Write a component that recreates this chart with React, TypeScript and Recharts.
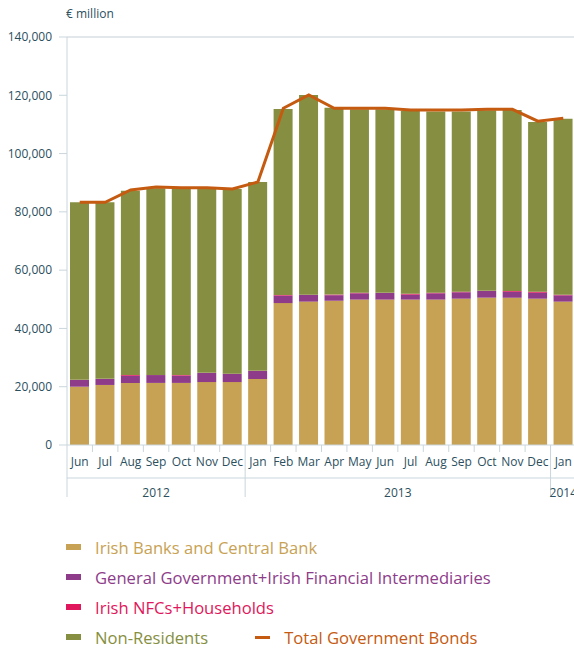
import { ComposedChart, Bar, Line, XAxis, YAxis, ReferenceLine } from "recharts";

const months = ["Jun", "Jul", "Aug", "Sep", "Oct", "Nov", "Dec", "Jan", "Feb", "Mar", "Apr", "May", "Jun", "Jul", "Aug", "Sep", "Oct", "Nov", "Dec", "Jan"];
const years = ["2012", "2012", "2012", "2012", "2012", "2012", "2012", "2013", "2013", "2013", "2013", "2013", "2013", "2013", "2013", "2013", "2013", "2013", "2013", "2014"];

const irishBanks = [20000, 20600, 21300, 21300, 21300, 21600, 21600, 22650, 48700, 49200, 49500, 49900, 49900, 49900, 49900, 50200, 50550, 50550, 50200, 49200];
const generalGov = [2300, 2050, 2500, 2700, 2500, 3100, 2800, 2750, 2550, 2300, 1900, 2150, 2250, 1700, 2150, 2200, 2300, 2050, 2050, 2150];
const nfcHouseholds = [50, 50, 200, 50, 200, 50, 50, 50, 200, 50, 200, 200, 50, 300, 200, 200, 50, 250, 350, 200];
const nonResidents = [60950, 60600, 63200, 64050, 64100, 63350, 63400, 64800, 63850, 68550, 64150, 62950, 63000, 62700, 62150, 61800, 61950, 62100, 58250, 60400];
const totalBonds = [83300, 83300, 87500, 88550, 88300, 88300, 87850, 90250, 115550, 120100, 115550, 115550, 115550, 114950, 114950, 114950, 115200, 115200, 111100, 112100];

const yTicks = [0, 20000, 40000, 60000, 80000, 100000, 120000, 140000];

const data = months.map((m, i) => ({
  id: `${years[i]} ${m}`,
  banks: irishBanks[i],
  gov: generalGov[i],
  nfc: nfcHouseholds[i],
  nonRes: nonResidents[i],
  total: totalBonds[i],
}));

const FONT = "'Open Sans', sans-serif";
const TEXT = "#2b4f5e";
const AXIS = "#c9d6dc";

const GOLD = "#c8a254";
const PURPLE = "#8e3c8a";
const PINK = "#e0175c";
const GREEN = "#868f41";
const ORANGE = "#c55a11";

const MonthTick = (props: any) => {
  const { x, y, index } = props;
  const half = props.payload?.offset ?? 12.7;
  const next = index + 1;
  const boundary = next < months.length && years[next] === years[index];
  return (
    <g>
      <text x={x} y={y + 21} textAnchor="middle" fontSize={12} fontFamily={FONT} fill={TEXT}>
        {months[index]}
      </text>
      {boundary && <line x1={x + half} x2={x + half} y1={y} y2={y + 7} stroke={AXIS} strokeWidth={1} />}
    </g>
  );
};

const YearTick = (props: any) => {
  const { x, y, index } = props;
  const half = props.payload?.offset ?? 12.7;
  if (index > 0 && years[index - 1] === years[index]) return <g />;
  const count = years.filter((yr) => yr === years[index]).length;
  return (
    <g>
      <line x1={x - half} x2={x - half} y1={y - 33} y2={y + 19} stroke={AXIS} strokeWidth={1} />
      <text x={x + (count - 1) * half} y={y + 19} textAnchor="middle" fontSize={12} fontFamily={FONT} fill={TEXT}>
        {years[index]}
      </text>
    </g>
  );
};

const legendRows = [
  { label: "Irish Banks and Central Bank", color: GOLD },
  { label: "General Government+Irish Financial Intermediaries", color: PURPLE },
  { label: "Irish NFCs+Households", color: PINK },
];

const App = () => {
  return (
    <div style={{ position: "absolute", left: 0, top: 0, width: 574, height: 648, overflow: "hidden", background: "#fff", fontFamily: FONT }}>
      <div style={{ position: "absolute", left: 66, top: 5, fontSize: 12, color: TEXT }}>€ million</div>
      <ComposedChart width={576} height={500} data={data} margin={{ top: 37, right: 0, bottom: 0, left: 0 }}>
        <ReferenceLine y={140000} stroke="#e1e7ea" strokeWidth={2} ifOverflow="extendDomain" />
        <YAxis
          width={67}
          domain={[0, 140000]}
          ticks={yTicks}
          interval={0}
          stroke={AXIS}
          tickSize={8}
          tickMargin={7}
          tick={{ fill: TEXT, fontSize: 12, fontFamily: FONT }}
          tickFormatter={(v: number) => v.toLocaleString("en-US")}
        />
        <XAxis
          xAxisId="m"
          dataKey="id"
          height={33}
          interval={0}
          tickSize={0}
          tickMargin={0}
          stroke={AXIS}
          tick={<MonthTick />}
        />
        <XAxis
          xAxisId="y"
          dataKey="id"
          height={22}
          interval={0}
          tickSize={0}
          tickMargin={0}
          stroke={AXIS}
          tick={<YearTick />}
        />
        <Bar xAxisId="m" dataKey="banks" stackId="a" fill={GOLD} barSize={19} isAnimationActive={false} />
        <Bar xAxisId="m" dataKey="gov" stackId="a" fill={PURPLE} barSize={19} isAnimationActive={false} />
        <Bar xAxisId="m" dataKey="nfc" stackId="a" fill={PINK} barSize={19} isAnimationActive={false} />
        <Bar xAxisId="m" dataKey="nonRes" stackId="a" fill={GREEN} barSize={19} isAnimationActive={false} />
        <Line xAxisId="m" dataKey="total" stroke={ORANGE} strokeWidth={3} dot={false} type="linear" isAnimationActive={false} />
      </ComposedChart>
      {legendRows.map((r, i) => (
        <div key={r.label} style={{ position: "absolute", left: 66, top: 535 + i * 30, height: 24, display: "flex", alignItems: "center" }}>
          <span style={{ display: "inline-block", width: 15, height: 6, background: r.color }} />
          <span style={{ marginLeft: 14, fontSize: 16.6, color: r.color }}>{r.label}</span>
        </div>
      ))}
      <div style={{ position: "absolute", left: 66, top: 625, height: 24, display: "flex", alignItems: "center" }}>
        <span style={{ display: "inline-block", width: 15, height: 6, background: GREEN }} />
        <span style={{ marginLeft: 14, fontSize: 16.6, color: GREEN }}>Non-Residents</span>
        <span style={{ display: "inline-block", width: 15, height: 3, background: ORANGE, marginLeft: 47 }} />
        <span style={{ marginLeft: 14, fontSize: 16.6, color: ORANGE }}>Total Government Bonds</span>
      </div>
    </div>
  );
};

export default App;
